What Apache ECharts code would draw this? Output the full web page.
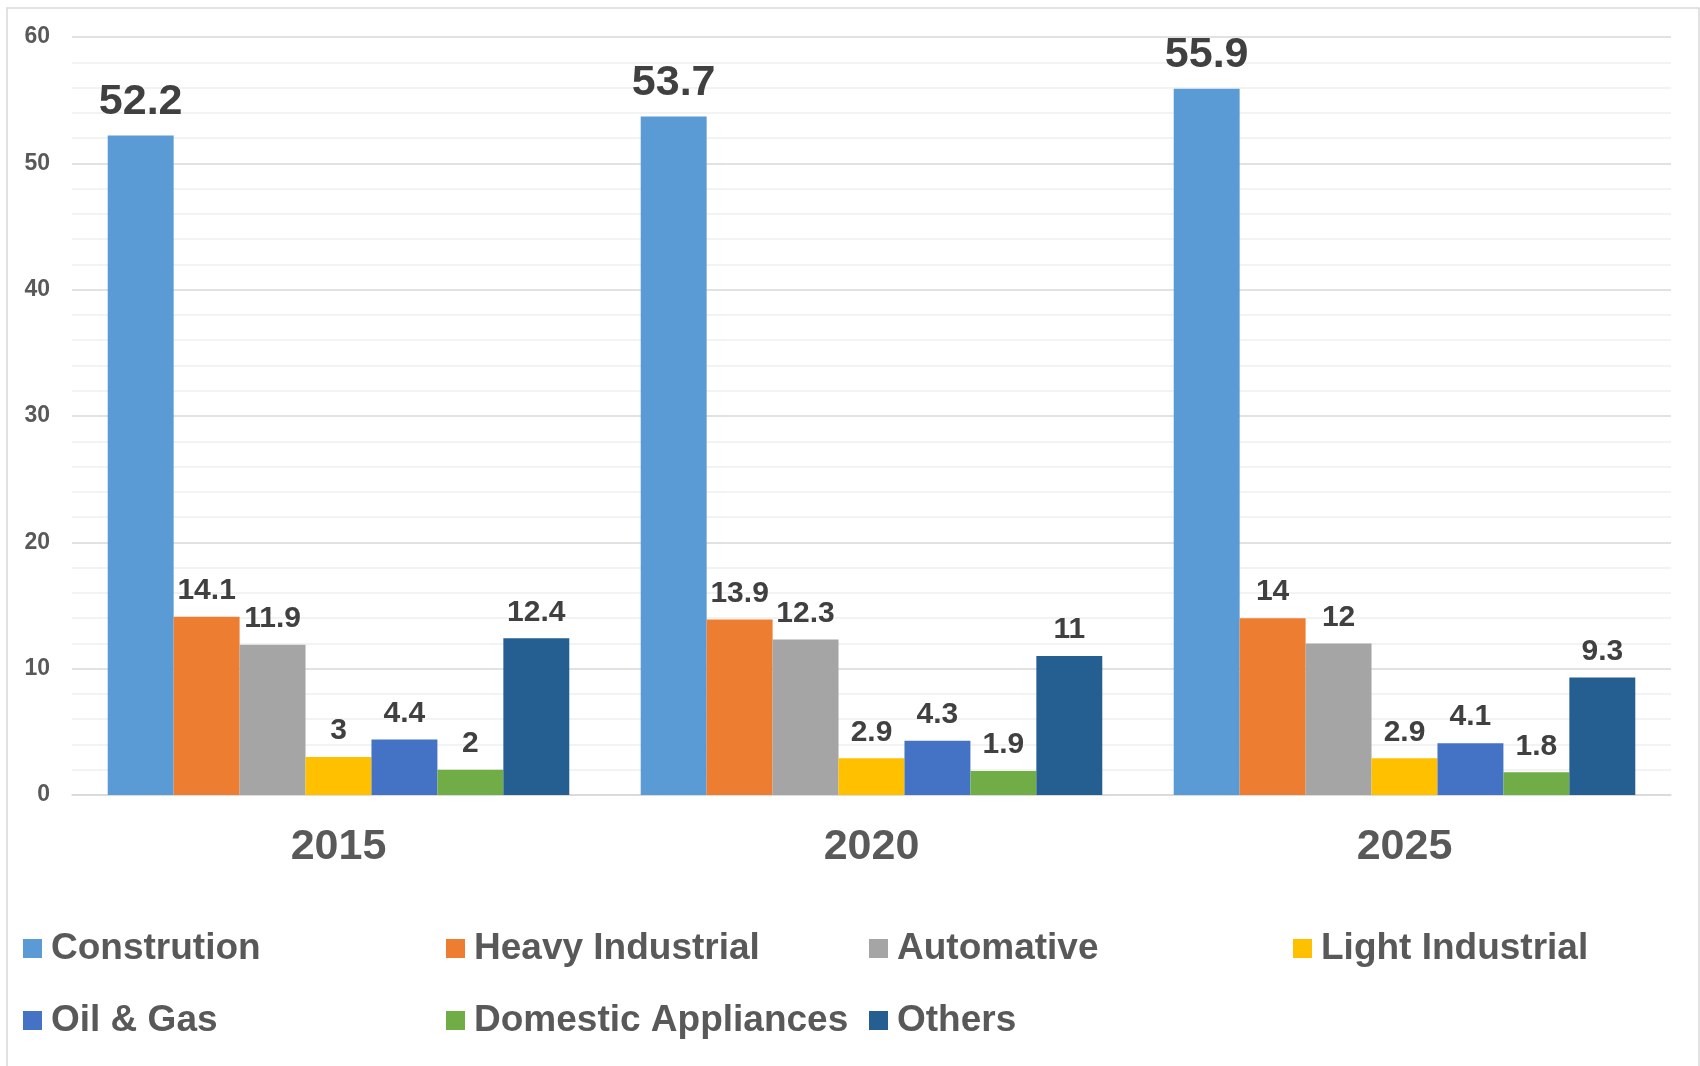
<!DOCTYPE html>
<html>
<head>
<meta charset="utf-8">
<script src="https://cdn.jsdelivr.net/npm/echarts@6/dist/echarts.min.js"></script>
<style>
html,body{margin:0;padding:0;background:#fff;}
#chart{width:1700px;height:1066px;}
</style>
</head>
<body>
<div id="chart"></div>
<script>
const years = ['2015', '2020', '2025'];
const seriesNames = ['Constrution', 'Heavy Industrial', 'Automative', 'Light Industrial', 'Oil & Gas', 'Domestic Appliances', 'Others'];
const construction = [52.2, 53.7, 55.9];
const heavyIndustrial = [14.1, 13.9, 14];
const automative = [11.9, 12.3, 12];
const lightIndustrial = [3, 2.9, 2.9];
const oilGas = [4.4, 4.3, 4.1];
const domesticAppliances = [2, 1.9, 1.8];
const others = [12.4, 11, 9.3];
const yTicks = [0, 10, 20, 30, 40, 50, 60];

const colors = ['#5B9BD5', '#ED7D31', '#A5A5A5', '#FFC000', '#4472C4', '#70AD47', '#255E91'];
const values = [construction, heavyIndustrial, automative, lightIndustrial, oilGas, domesticAppliances, others];
const FONT = '"Liberation Sans", Arial, sans-serif';

const chart = echarts.init(document.getElementById('chart'), null, {renderer: 'canvas'});

const series = seriesNames.map((name, i) => ({
  name: name,
  type: 'bar',
  data: values[i],
  barGap: '0%',
  barCategoryGap: '13.4%',
  itemStyle: {color: colors[i]},
  label: {
    show: true,
    position: 'top',
    distance: i === 0 ? 12 : 11,
    color: '#404040',
    fontFamily: FONT,
    fontWeight: 'bold',
    fontSize: i === 0 ? 43 : 30
  }
}));

const legendPos = [
  [23, 930], [446, 930], [869, 930], [1293, 930],
  [23, 1002], [446, 1002], [869, 1002]
];
const legends = seriesNames.map((name, i) => ({
  data: [name],
  left: legendPos[i][0],
  top: legendPos[i][1],
  padding: 0,
  icon: 'rect',
  itemWidth: 19,
  itemHeight: 19,
  itemGap: 0,
  selectedMode: false,
  textStyle: {
    color: '#595959',
    fontFamily: FONT,
    fontWeight: 'bold',
    fontSize: 37,
    padding: [0, 0, 0, 4]
  }
}));

chart.setOption({
  animation: false,
  backgroundColor: '#fff',
  graphic: [{
    type: 'rect',
    shape: {x: 7, y: 8, width: 1692, height: 1070},
    style: {fill: 'none', stroke: '#d9d9d9', lineWidth: 1.5},
    silent: true,
    z: -1
  }],
  legend: legends,
  grid: {left: 72, right: 29, top: 37, bottom: 271, containLabel: false},
  xAxis: {
    type: 'category',
    data: years,
    axisTick: {show: false},
    axisLine: {show: true, lineStyle: {color: '#d9d9d9', width: 1.5}},
    axisLabel: {
      color: '#595959',
      fontFamily: FONT,
      fontWeight: 'bold',
      fontSize: 43,
      margin: 31
    }
  },
  yAxis: {
    type: 'value',
    min: yTicks[0],
    max: yTicks[yTicks.length - 1],
    interval: 10,
    axisLine: {show: false},
    axisTick: {show: false},
    axisLabel: {
      color: '#595959',
      fontFamily: FONT,
      fontWeight: 'bold',
      fontSize: 23,
      margin: 22
    },
    splitLine: {show: true, lineStyle: {color: '#d9d9d9', width: 1.5}},
    minorTick: {show: false, splitNumber: 5},
    minorSplitLine: {show: true, lineStyle: {color: '#f0f0f0', width: 1.5}}
  },
  series: series
});
</script>
</body>
</html>
